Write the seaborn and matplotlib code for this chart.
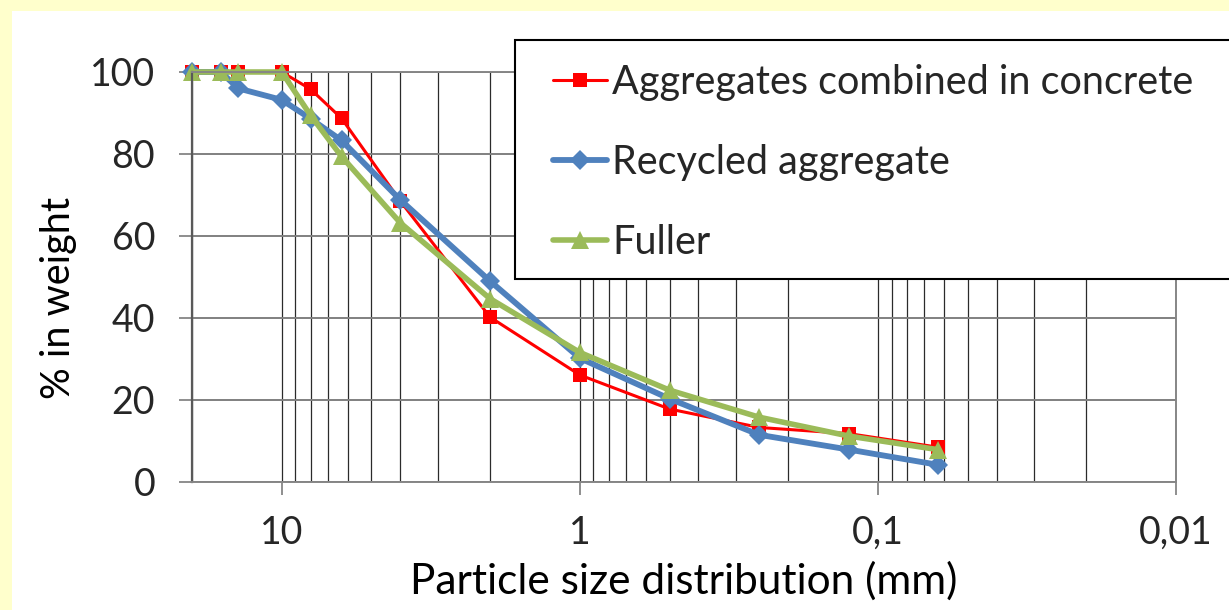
import numpy as np
import pandas as pd
import matplotlib
matplotlib.use("Agg")
import matplotlib.pyplot as plt
import seaborn as sns
from matplotlib.patches import Rectangle
from matplotlib.ticker import FixedLocator, NullFormatter, LogLocator

# ---------------- data ----------------
sizes = [20, 16, 14, 10, 8, 6.3, 4, 2, 1, 0.5, 0.25, 0.125, 0.063]
combined = [100, 100, 100, 100, 95.8, 88.7, 68.5, 40.2, 26.1, 17.8, 13.3, 11.8, 8.5]
recycled = [100, 100, 96.0, 93.2, 88.6, 83.3, 68.8, 49.0, 30.2, 20.3, 11.5, 7.9, 4.2]
fuller = [100, 100, 100, 100, 89.4, 79.4, 63.2, 44.7, 31.6, 22.4, 15.8, 11.2, 7.9]
series_names = ["Aggregates combined in concrete", "Recycled aggregate", "Fuller"]
x_ticks = [10, 1, 0.1, 0.01]
x_tick_labels = ["10", "1", "0,1", "0,01"]
y_ticks = [0, 20, 40, 60, 80, 100]

sns.set_theme(style="white")
plt.rcParams["font.family"] = ["Lato", "DejaVu Sans"]
FS = 27
LFS = 28.5

W, H = 1229, 610
fig = plt.figure(figsize=(W / 100, H / 100), dpi=100)
fig.patch.set_facecolor("white")
# pale yellow frame on top and left
fig.patches.append(Rectangle((0, 1 - 11 / H), 1, 11 / H, transform=fig.transFigure,
                             facecolor="#FFFFCC", edgecolor="none", zorder=0))
fig.patches.append(Rectangle((0, 0), 12 / W, 1, transform=fig.transFigure,
                             facecolor="#FFFFCC", edgecolor="none", zorder=0))

ax = fig.add_axes([192 / W, (H - 482) / H, (1176 - 192) / W, (482 - 72) / H])

styles = [
    dict(color="#FF0000", marker="s", markersize=9.5, linewidth=2.2),
    dict(color="#4F81BD", marker="D", markersize=10, linewidth=4.2),
    dict(color="#9BBB59", marker="^", markersize=12.5, linewidth=4.0),
]
for name, vals, st in zip(series_names, [combined, recycled, fuller], styles):
    df = pd.DataFrame({"size": sizes, "pct": vals})
    sns.lineplot(data=df, x="size", y="pct", ax=ax, label=name,
                 markeredgewidth=0, clip_on=False, **st)

ax.set_xscale("log")
ax.set_xlim(20, 0.01)
ax.set_ylim(0, 100)

ax.xaxis.set_major_locator(FixedLocator(x_ticks))
ax.set_xticklabels(x_tick_labels)
ax.xaxis.set_minor_locator(LogLocator(base=10, subs=np.arange(2, 10)))
ax.xaxis.set_minor_formatter(NullFormatter())
ax.set_yticks(y_ticks)

ax.tick_params(axis="x", which="major", length=9.5, width=1.3, color="#868686",
               pad=14, labelsize=FS, direction="out", bottom=True)
ax.tick_params(axis="x", which="minor", length=0)
ax.tick_params(axis="y", length=9.5, width=1.3, color="#868686",
               pad=17, labelsize=FS, direction="out", left=True)

ax.grid(True, axis="x", which="both", color="#2b2b2b", linewidth=0.9)
ax.grid(True, axis="y", which="major", color="#808080", linewidth=1.4)
ax.set_axisbelow(True)

for s in ["top", "right", "bottom"]:
    ax.spines[s].set_visible(True)
    ax.spines[s].set_color("#868686")
    ax.spines[s].set_linewidth(1.4)
ax.spines["left"].set_color("#595959")
ax.spines["left"].set_linewidth(1.6)

ax.set_xlabel("Particle size distribution (mm)", fontsize=30.5, labelpad=8, color="black")
ax.set_ylabel("% in weight", fontsize=28.5, color="black")
ax.yaxis.set_label_coords((77 - 192) / 984, (482 - 298) / 410)

# legend box (white, black edge) extending past the right edge
fig.patches.append(Rectangle((515 / W, 1 - 279 / H), 0.6, (279 - 40) / H,
                             transform=fig.transFigure, facecolor="white",
                             edgecolor="black", linewidth=1.5, zorder=3))
handles, labels = ax.get_legend_handles_labels()
ax.get_legend().remove()
leg = fig.legend(handles, labels, loc="upper left",
                 bbox_to_anchor=(553 / W, 1 - 64 / H), bbox_transform=fig.transFigure,
                 borderaxespad=0, borderpad=0, fontsize=LFS, frameon=False,
                 handlelength=1.36, handletextpad=0.13, labelspacing=1.09)
leg.set_zorder(5)

fig.savefig("out.png", dpi=100)
